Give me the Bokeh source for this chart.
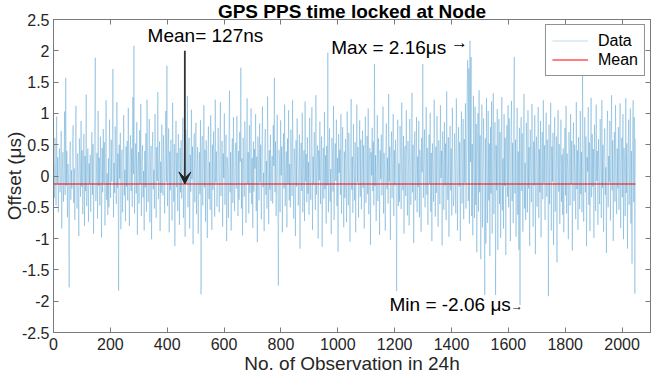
import numpy as np
from bokeh.plotting import figure
from bokeh.models import (Range1d, LinearAxis, FixedTicker, Label, Legend,
                          LegendItem, Arrow, VeeHead)
from bokeh.embed import file_html
from bokeh.resources import INLINE

# Offsets, in units of 10 ns (every 2nd observation)
offset_10ns = [
    22, -35, 61, 8, -47, 95, -12, 30, -58, 14, 44, -26, -3, 72, -84, 10, 38, -41, 6, 103, -30, 157, -15, 40, -66, 19, -5, -178, 27, 55, -38, 9,
    -20, 48, 81, -43, 12, -70, 28, 112, -8, -52, 36, 2, -96, 60, 23, -33, 88, -17, 41, -61, 5, 67, -80, 32, -24, 130, -48, 15, 44, -73, 20, -12,
    34, -57, 11, 70, -30, 51, -92, 25, 94, 189, -40, 5, 37, -68, 104, -16, 29, -47, 63, 9, -98, 45, -26, 75, -11, 54, -79, 18, 121, -38, 4, -62,
    28, -50, 90, 16, -35, 58, -9, 41, 171, -66, 21, -27, 79, 7, -45, 118, -19, 36, -183, 50, -4, 69, -85, 25, 42, -58, 13, 97, -31, 10, -72, 47,
    -17, 56, -39, 109, 6, -80, 31, 65, -24, 44, -49, 126, 3, 208, -60, 20, 52, -28, 86, -94, 14, 38, -44, 73, -12, 115, -64, 24, 49, -34, 8, -87,
    40, -18, 68, -57, 122, 17, -42, 26, 91, -74, 5, 48, -101, 34, 70, -21, 10, -52, 99, 29, -67, 46, -8, 134, -37, 16, 55, -88, 23, -27, 82, -6,
    -31, 65, 14, -60, 43, 104, -10, 176, -48, 25, 76, -90, 39, -23, 58, 1, -71, 117, 19, -41, 51, -112, 28, 88, -18, 37, -56, 67, 8, -78, 45, -26,
    57, -36, 20, 93, -67, 4, 42, -97, 74, 31, -13, 128, -50, 17, 61, -84, 34, -25, 106, -5, 47, -109, 12, 68, -42, 26, 85, -61, 16, 46, -92, 2,
    38, -29, 89, -189, 24, 64, -47, 9, 113, -18, 42, -73, 57, 13, -99, 32, 79, -37, 22, -54, 97, 6, -86, 50, -22, 71, 28, -65, 122, -10, 39, -49,
    -14, 77, 24, -58, 40, 118, -32, 7, 56, -81, 36, -3, 100, -46, 18, 66, -104, 30, 10, -67, 48, 136, -26, 38, -87, 20, 60, -43, 94, 2, -56, 31,
    53, -20, 96, 12, -64, 40, -38, 70, 23, 173, -52, 28, -95, 61, 8, -33, 87, 44, -75, 18, 124, -13, 38, -60, 81, -27, 4, 108, -45, 29, -83, 55,
    -25, 43, 12, 99, -56, 31, -106, 63, 20, -39, 84, -10, 50, -69, 36, 111, -18, 5, -88, 46, 75, -30, 24, -52, 127, 14, -77, 41, -22, 66, -40, 10,
    32, -44, 81, 16, 157, -26, 55, -64, 11, 98, -34, -175, 42, 23, -58, 89, 1, 47, -90, 29, 68, -20, 114, -48, 9, 39, -82, 60, -13, 105, -39, 19,
    -50, 74, 24, -32, 121, 7, -68, 44, 15, -96, 57, -17, 92, 35, -47, 5, 66, -116, 27, 53, -24, 101, -58, 13, 41, -72, 119, -9, 35, -42, 62, -28,
    22, -62, 93, 10, -38, 56, 110, -86, 31, -14, 70, 3, -54, 129, -30, 19, 49, -100, 41, -7, 87, -45, 25, 63, -113, 16, 45, -36, 102, -21, 33, -76,
    48, -15, 197, -58, 27, 76, -41, 11, -93, 61, 36, -25, 112, -70, 17, 52, -8, 90, -48, 29, -121, 67, 5, 42, -30, 99, -60, 21, 78, -13, -82, 39,
    -35, 59, 18, -74, 103, 26, -47, 69, 8, -105, 42, 123, -22, 31, -59, 83, 14, -39, 54, -90, 23, 114, -10, 46, -66, 16, 89, -33, 58, -53, 3, 72,
    -19, 49, -84, 30, 95, -43, 12, 64, -29, 108, -61, 20, 45, -110, 38, 1, 77, -24, 55, -47, 179, -16, 33, -72, 9, 97, -40, 60, 25, -94, 41, -5,
    66, -31, 14, 111, -60, 37, 5, -87, 52, 84, -21, 29, -44, 131, -9, 47, -102, 19, 71, -35, 24, 99, -64, 41, -15, 58, 9, -184, 32, 90, -48, 20,
    -41, 80, 27, -53, 117, 11, -23, 64, -92, 39, 48, -32, 105, -6, -63, 56, 17, -79, 91, 34, -46, 13, 133, -26, 50, -107, 23, 71, -39, 7, 94, -58,
    31, -18, 88, -66, 42, 20, -89, 61, 6, 179, -35, 26, 74, -50, 11, 110, -30, 45, -78, 16, 66, -12, 101, -57, 37, -104, 52, 8, -41, 122, 22, -65,
    47, -27, 96, 13, -81, 57, 32, -45, 113, -3, 40, -111, 71, 21, -54, 86, -15, 52, -70, 135, 10, -38, 62, -97, 28, 80, -23, 44, -63, 109, 3, -48,
    -29, 68, 19, -60, 124, 41, -87, 25, 78, -17, 54, -104, 36, 103, -44, 9, 91, -69, 59, -11, 116, -52, 32, 139, 185, -40, 172, -76, 216, 22, 190, -64,
    51, -95, 128, 14, -67, 111, -46, 83, -122, 31, 100, -57, 137, -26, 65, -133, 39, 114, -82, 22, 92, -49, -190, 60, -108, 125, 6, -75, 104, -39, 52, -128,
    78, -28, 119, -92, 43, 132, -61, 17, 86, -190, 49, -23, 107, -118, 34, 91, -45, 70, -99, 11, 126, -55, 28, -84, 99, -16, 61, -126, 42, 81, -33, 113,
    -50, 92, 23, -104, 66, 120, -40, 53, -75, 138, 190, -28, 58, -97, 19, 109, -62, 39, -118, 77, -206, 47, 94, -24, 68, -89, 31, 131, -52, 21, -70, 85,
    32, -58, 105, -20, 46, -112, 74, 12, -42, 115, 26, -81, 55, -15, 97, -125, 36, 63, -49, 8, 110, -67, 43, -26, 88, -98, 18, 70, -37, 121, -11, 49,
    -70, 39, 101, -33, 58, 15, -192, 82, -45, 24, 117, -87, 47, -9, 69, -110, 29, 94, -57, 11, 63, -138, 40, 105, -25, 51, -77, 17, 90, -41, 34, -62,
    44, -90, 19, 77, -31, 112, -60, 36, 10, -101, 70, 28, -47, 99, -13, 56, -119, 25, 85, -40, 50, 5, -69, 118, -21, 41, -86, 62, 15, -53, 104, -29,
    38, -58, 176, 13, -73, 47, 94, -26, 63, -112, 30, 7, 110, -46, 54, -88, 19, 125, -34, 67, -17, 43, -99, 82, 24, -56, 114, -8, 40, -78, 59, 2,
    -45, 91, 25, -67, 121, -19, 50, -89, 40, 76, -30, 14, -123, 61, 104, -50, 32, -10, 88, -71, 47, 129, -23, 57, -104, 17, 70, -41, 113, 6, -61, 44,
    -20, 78, -54, 36, 116, -83, 22, 61, -34, 99, -101, 45, 8, -64, 124, -27, 52, -116, 28, 90, -46, 17, 108, -76, 40, -140, 68, 121, -42, 94, -188, 60,
]

mean_offset_us = -0.127
mean_label = "Mean= 127ns"
max_label = "Max = 2.16μs"
min_label = "Min = -2.06 μs"

x_ticks = [0, 200, 400, 600, 800, 1000, 1200, 1400, 1600, 1800, 2000]
y_ticks = [-2.5, -2, -1.5, -1, -0.5, 0, 0.5, 1, 1.5, 2, 2.5]
y_tick_labels = ["-2.5", "-2", "-1.5", "-1", "-0.5", "0", "0.5", "1", "1.5", "2", "2.5"]

title_text = "GPS PPS time locked at Node"
x_label = "No. of Observation in 24h"
y_label = "Offset (μs)"

offset_us = np.array(offset_10ns) / 100.0
obs = np.arange(len(offset_us)) * 2 + 1

FONT = "Liberation Sans"
AX = "#7a7a7a"
TXT = "#262626"

p = figure(width=664, height=376,
           min_border_left=40, min_border_right=14, min_border_top=0, min_border_bottom=40,
           x_range=Range1d(0, 2100), y_range=Range1d(-2.5, 2.5),
           output_backend="svg", toolbar_location=None,
           background_fill_color="white", border_fill_color="white")
p.title.text = title_text
p.title.text_font = FONT
p.title.text_font_size = "19px"
p.title.text_font_style = "bold"
p.title.text_color = "black"
p.title.text_line_height = 0.9
p.title.align = "center"
p.title.standoff = -4
p.title.offset = 0

p.grid.visible = False
p.outline_line_color = AX
p.outline_line_width = 1

p.xaxis.ticker = FixedTicker(ticks=x_ticks)
p.yaxis.ticker = FixedTicker(ticks=y_ticks)
p.yaxis.major_label_overrides = {t: s for t, s in zip(y_ticks, y_tick_labels)}
p.xaxis.major_label_overrides = {t: str(t) for t in x_ticks}

for ax in [p.xaxis[0], p.yaxis[0]]:
    ax.axis_line_color = AX
    ax.major_tick_line_color = AX
    ax.major_tick_in = 5
    ax.major_tick_out = 0
    ax.minor_tick_line_color = None
    ax.major_label_text_font = FONT
    ax.major_label_text_font_size = "16px"
    ax.major_label_text_color = TXT
    ax.axis_label_text_font = FONT
    ax.axis_label_text_font_size = "19px"
    ax.axis_label_text_font_style = "normal"
    ax.axis_label_text_color = TXT
    ax.axis_label_text_line_height = 0.9

p.xaxis.axis_label = x_label
p.xaxis.major_label_standoff = 5
p.xaxis.axis_label_standoff = 0
p.yaxis.axis_label = y_label
p.yaxis.major_label_standoff = 4
p.yaxis.axis_label_standoff = -6

top_ax = LinearAxis(ticker=FixedTicker(ticks=x_ticks), major_label_text_font_size="1px",
                    major_label_text_color=None,
                    axis_line_color=AX, major_tick_line_color=AX, major_tick_in=5,
                    major_tick_out=0, minor_tick_line_color=None, major_label_standoff=0)
right_ax = LinearAxis(ticker=FixedTicker(ticks=y_ticks), major_label_text_font_size="1px",
                      major_label_text_color=None,
                      axis_line_color=AX, major_tick_line_color=AX, major_tick_in=5,
                      major_tick_out=0, minor_tick_line_color=None, major_label_standoff=0)
p.add_layout(top_ax, "above")
p.add_layout(right_ax, "right")

data_r = p.line(obs, offset_us, line_color="#0072BD", line_width=0.5, line_alpha=0.5)
mean_r = p.line([obs[0], obs[-1]], [mean_offset_us, mean_offset_us], line_color="#ff0000", line_width=1.1)

legend = Legend(items=[LegendItem(label="Data", renderers=[data_r]),
                       LegendItem(label="Mean", renderers=[mean_r])],
                location="top_right", margin=5, padding=6, spacing=0,
                glyph_width=36, glyph_height=19, label_height=19, label_standoff=10,
                label_text_font=FONT, label_text_font_size="16px", label_text_color="black",
                border_line_color=TXT, border_line_width=1, background_fill_alpha=1)
p.add_layout(legend)

# annotations
p.add_layout(Label(x=331, y=2.24, text=mean_label, text_font=FONT, text_font_size="19px",
                   text_baseline="middle", text_color="black"))
p.add_layout(Label(x=977, y=2.06, text=max_label, text_font=FONT, text_font_size="19px",
                   text_baseline="middle", text_color="black"))
p.add_layout(Label(x=1398, y=2.13, text="→", text_font=FONT, text_font_size="17px",
                   text_baseline="middle", text_color="black"))
p.add_layout(Label(x=1182, y=-2.06, text=min_label, text_font=FONT, text_font_size="19px",
                   text_baseline="middle", text_color="black"))
p.add_layout(Label(x=1609, y=-2.07, text="→", text_font=FONT, text_font_size="12px",
                   text_baseline="middle", text_color="black"))

p.add_layout(Arrow(x_start=462, y_start=2.0, x_end=462, y_end=mean_offset_us,
                   line_color="#333333", line_width=1.8,
                   end=VeeHead(size=12, fill_color="#222222", line_color="#222222")))

open("out.html", "w").write(file_html(p, INLINE))
